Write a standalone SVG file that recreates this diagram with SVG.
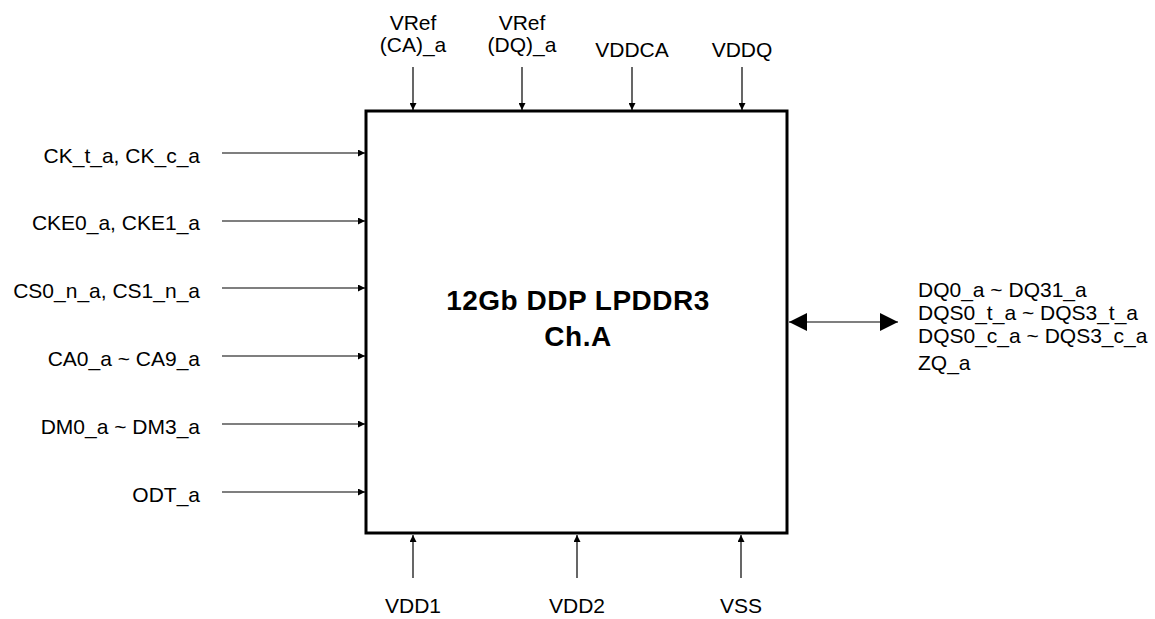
<svg xmlns="http://www.w3.org/2000/svg" width="1155" height="619" viewBox="0 0 1155 619">
<style>
text{font-family:"Liberation Sans",Arial,sans-serif;font-size:21px;fill:#000}
.r{text-anchor:end}
.m{text-anchor:middle}
.t{font-weight:bold;font-size:28px;letter-spacing:0.5px;text-anchor:middle}
.c line{stroke:#000;stroke-width:1.2}
</style>
<defs>
<marker id="ah" viewBox="0 0 10 10" refX="10" refY="5" markerWidth="8" markerHeight="7" markerUnits="userSpaceOnUse" orient="auto"><path d="M0,0L10,5L0,10z" fill="#000"/></marker>
<marker id="big" viewBox="0 0 10 10" refX="10" refY="5" markerWidth="30" markerHeight="18" markerUnits="userSpaceOnUse" orient="auto-start-reverse"><path d="M0,0L10,5L0,10z" fill="#000"/></marker>
</defs>
<g id="chip">
<rect x="366" y="111" width="421" height="422" fill="#fff" stroke="#000" stroke-width="3"/>
<text class="t" x="578" y="310">12Gb DDP LPDDR3</text>
<text class="t" x="578" y="346">Ch.A</text>
</g>
<g id="labels-left">
<text class="r" x="200" y="163">CK_t_a, CK_c_a</text>
<text class="r" x="200" y="230">CKE0_a, CKE1_a</text>
<text class="r" x="200" y="298">CS0_n_a, CS1_n_a</text>
<text class="r" x="200" y="366">CA0_a ~ CA9_a</text>
<text class="r" x="200" y="434">DM0_a ~ DM3_a</text>
<text class="r" x="200" y="502">ODT_a</text>
</g>
<g id="labels-top">
<text class="m" x="413" y="30">VRef</text>
<text class="m" x="413" y="52">(CA)_a</text>
<text class="m" x="522" y="30">VRef</text>
<text class="m" x="522" y="52">(DQ)_a</text>
<text class="m" x="632" y="57">VDDCA</text>
<text class="m" x="742" y="57">VDDQ</text>
</g>
<g id="labels-bottom">
<text class="m" x="413" y="613">VDD1</text>
<text class="m" x="577" y="613">VDD2</text>
<text class="m" x="741" y="613">VSS</text>
</g>
<g id="labels-right">
<text x="918" y="297">DQ0_a ~ DQ31_a</text>
<text x="918" y="320">DQS0_t_a ~ DQS3_t_a</text>
<text x="918" y="343">DQS0_c_a ~ DQS3_c_a</text>
<text x="918" y="370">ZQ_a</text>
</g>
<g id="connectors" class="c">
<line x1="222" y1="153" x2="365" y2="153" marker-end="url(#ah)"/>
<line x1="222" y1="221" x2="365" y2="221" marker-end="url(#ah)"/>
<line x1="222" y1="288" x2="365" y2="288" marker-end="url(#ah)"/>
<line x1="222" y1="356" x2="365" y2="356" marker-end="url(#ah)"/>
<line x1="222" y1="424" x2="365" y2="424" marker-end="url(#ah)"/>
<line x1="222" y1="492" x2="365" y2="492" marker-end="url(#ah)"/>
<line x1="413" y1="67" x2="413" y2="110" marker-end="url(#ah)"/>
<line x1="522" y1="67" x2="522" y2="110" marker-end="url(#ah)"/>
<line x1="632" y1="67" x2="632" y2="110" marker-end="url(#ah)"/>
<line x1="742" y1="67" x2="742" y2="110" marker-end="url(#ah)"/>
<line x1="413" y1="578" x2="413" y2="535" marker-end="url(#ah)"/>
<line x1="577" y1="578" x2="577" y2="535" marker-end="url(#ah)"/>
<line x1="741" y1="578" x2="741" y2="535" marker-end="url(#ah)"/>
<line x1="789" y1="322" x2="898" y2="322" marker-start="url(#big)" marker-end="url(#big)"/>
</g>
</svg>
